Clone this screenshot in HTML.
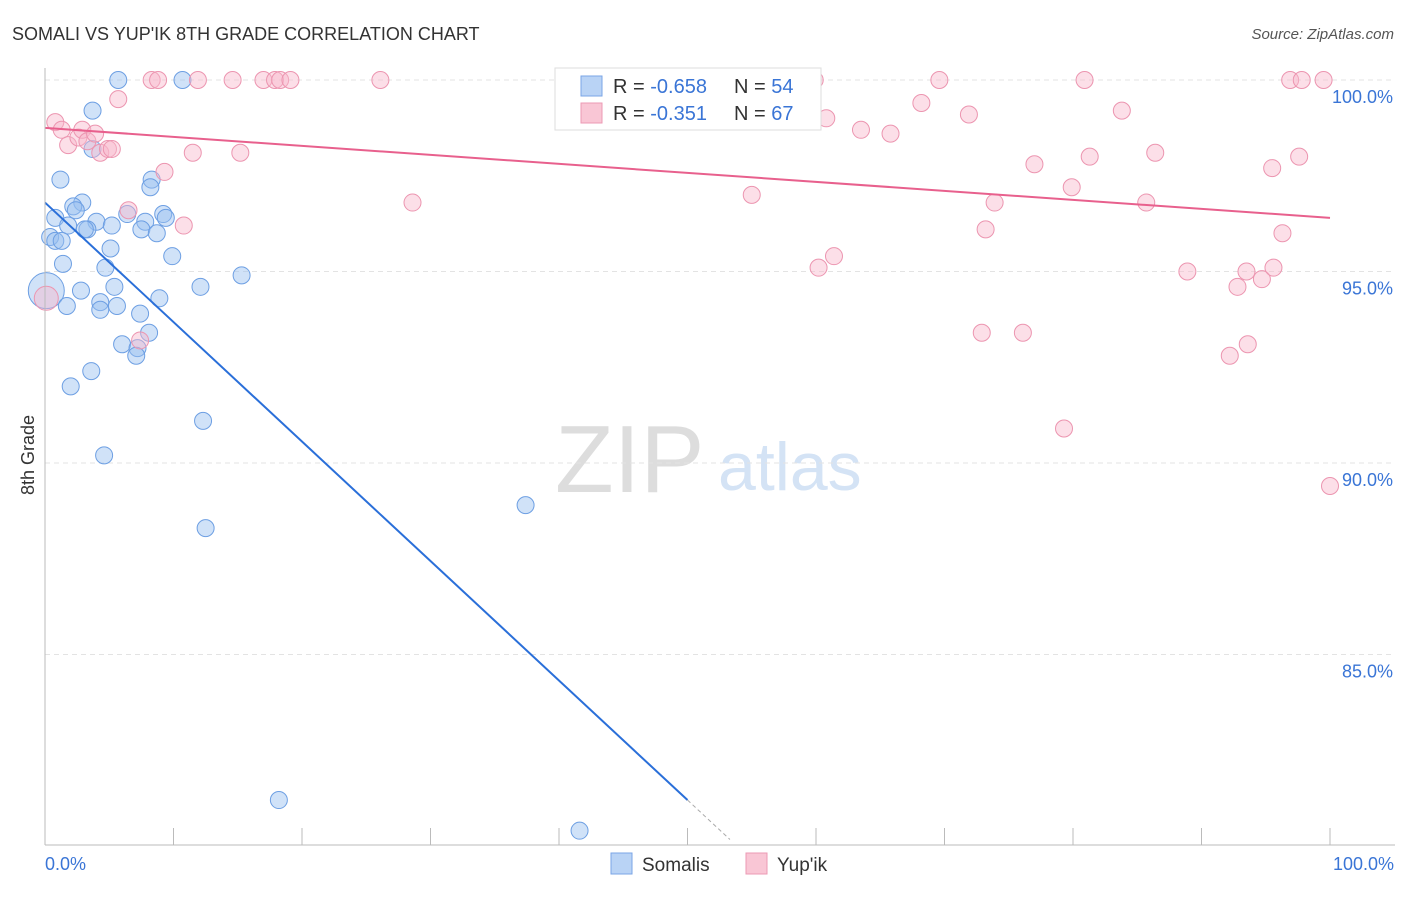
<!DOCTYPE html>
<html><head><meta charset="utf-8"><style>
body{margin:0;background:#fff;font-family:"Liberation Sans",sans-serif;}
svg text{font-family:"Liberation Sans",sans-serif;}
</style></head><body>
<svg id="c" width="1406" height="892" viewBox="0 0 1406 892" xmlns="http://www.w3.org/2000/svg">
<text x="12" y="40" font-size="18" fill="#333">SOMALI VS YUP'IK 8TH GRADE CORRELATION CHART</text>
<text x="1394" y="39" font-size="15" fill="#555" font-style="italic" text-anchor="end">Source: ZipAtlas.com</text>
<text x="555" y="492" font-size="96" fill="#ddd" font-family="Liberation Serif">ZIP</text>
<text x="718" y="490" font-size="68" fill="#d4e3f5">atlas</text>
<text transform="translate(34,455) rotate(-90)" font-size="18" fill="#333" text-anchor="middle">8th Grade</text>
<g id="grid"></g><g id="marks"></g>
<line x1="45" y1="68" x2="45" y2="845" stroke="#bbb"/>
<line x1="45" y1="845" x2="1395" y2="845" stroke="#bbb"/>
<text x="45" y="870" font-size="18" fill="#3a75d6">0.0%</text>
<text x="1394" y="870" font-size="18" fill="#3a75d6" text-anchor="end">100.0%</text>
<g>
<rect x="555" y="68" width="266" height="62" fill="#fff" stroke="#ddd"/>
<rect x="581" y="76" width="21" height="20" fill="#b9d3f5" stroke="#7aa5e6"/>
<rect x="581" y="103" width="21" height="20" fill="#f9c6d5" stroke="#ec9ab4"/>
<text x="613" y="93" font-size="20" fill="#333">R = <tspan fill="#3a75d6">-0.658</tspan></text>
<text x="734" y="93" font-size="20" fill="#333">N = <tspan fill="#3a75d6">54</tspan></text>
<text x="613" y="120" font-size="20" fill="#333">R =  <tspan fill="#3a75d6">-0.351</tspan></text>
<text x="734" y="120" font-size="20" fill="#333">N = <tspan fill="#3a75d6">67</tspan></text>
</g>
<g><rect x="611" y="853" width="21" height="21" fill="#b9d3f5" stroke="#7aa5e6"/><text x="642" y="871" font-size="19" fill="#333">Somalis</text></g>
<g><rect x="746" y="853" width="21" height="21" fill="#f9c6d5" stroke="#ec9ab4"/><text x="777" y="871" font-size="19" fill="#333">Yup'ik</text></g>
</svg>
<script>
const yTicks=[100,95,90,85];
const yTickLabels=["100.0%","95.0%","90.0%","85.0%"];
const xTicks=[0,10,20,30,40,50,60,70,80,90,100];
const somaliX=[5.7,10.7,3.7,3.7,1.2,8.3,8.2,2.9,2.2,2.4,0.8,6.4,9.2,9.4,4.0,5.2,7.8,1.8,3.3,3.1,7.5,8.7,0.4,0.8,1.3,5.1,9.9,4.7,1.4,15.3,5.4,12.1,2.8,0.1,4.3,8.9,1.7,5.6,4.3,7.4,8.1,6.0,7.2,7.1,3.6,2.0,12.3,4.6,37.4,12.5,18.2,41.6];
const somaliY=[100,100,99.2,98.2,97.4,97.4,97.2,96.8,96.7,96.6,96.4,96.5,96.5,96.4,96.3,96.2,96.3,96.2,96.1,96.1,96.1,96.0,95.9,95.8,95.8,95.6,95.4,95.1,95.2,94.9,94.6,94.6,94.5,94.5,94.2,94.3,94.1,94.1,94.0,93.9,93.4,93.1,93.0,92.8,92.4,92.0,91.1,90.2,88.9,88.3,81.2,80.4];
const yupikX=[0.8,1.3,1.8,2.6,2.9,3.3,3.9,4.3,4.9,5.2,5.7,6.5,7.4,9.3,10.8,11.5,15.2,8.3,8.8,11.9,14.6,17.0,17.9,18.3,19.1,26.1,28.6,0.1,41.3,49.7,55.0,58.4,59.9,60.8,60.2,61.4,63.5,65.8,68.2,69.6,71.9,73.2,73.9,72.9,76.1,77.0,79.9,80.9,81.3,83.8,85.7,86.4,79.3,88.9,92.2,92.8,93.5,93.6,94.7,95.6,95.5,96.3,96.9,97.8,97.6,99.5,100];
const yupikY=[98.9,98.7,98.3,98.5,98.7,98.4,98.6,98.1,98.2,98.2,99.5,96.6,93.2,97.6,96.2,98.1,98.1,100,100,100,100,100,100,100,100,100,96.8,94.3,100,100,97.0,99.6,100,99.0,95.1,95.4,98.7,98.6,99.4,100,99.1,96.1,96.8,93.4,93.4,97.8,97.2,100,98.0,99.2,96.8,98.1,90.9,95.0,92.8,94.6,95.0,93.1,94.8,95.1,97.7,96.0,100,100,98.0,100,89.4];
const somaliTrend=[96.8,-0.312];
const yupikTrend=[98.75,-0.0235];
const X=v=>45+v*12.85, Y=v=>80+(100-v)*38.3;
const NS="http://www.w3.org/2000/svg";
const grid=document.getElementById('grid'), marks=document.getElementById('marks');
function mk(tag,at,p){const e=document.createElementNS(NS,tag);for(const k in at)e.setAttribute(k,at[k]);p.appendChild(e);return e;}
yTicks.forEach((t,i)=>{
 const l=mk('line',{x1:45,x2:1395,y1:Y(t),y2:Y(t),stroke:'#e3e3e3','stroke-dasharray':'5,4'},grid);
 
 
 const tx=mk('text',{x:1393,y:Y(t)+23,'font-size':18,fill:'#3a75d6','text-anchor':'end'},grid);
 tx.textContent=yTickLabels[i];
 
 
});
xTicks.forEach(t=>{
 const l=mk('line',{x1:X(t),x2:X(t),y1:828,y2:845,stroke:'#bbb'},grid);
 
 
});
const big={33:1};
somaliX.forEach((x,i)=>{
 const c=mk('circle',{cx:X(x),cy:Y(somaliY[i]),r:big[i]?18:8.5,fill:'rgba(150,190,240,0.45)',stroke:'#6d9fe3','stroke-width':1},marks);
 
 
});
yupikX.forEach((x,i)=>{
 const c=mk('circle',{cx:X(x),cy:Y(yupikY[i]),r:i==27?12:8.5,fill:'rgba(248,185,205,0.45)',stroke:'#ec95b0','stroke-width':1},marks);
 
 
});
const sl=mk('line',{x1:X(0),y1:Y(somaliTrend[0]),x2:X(50),y2:Y(somaliTrend[0]+somaliTrend[1]*50),stroke:'#2a6fd9','stroke-width':2},marks);


const sd=mk('line',{x1:X(50),y1:Y(somaliTrend[0]+somaliTrend[1]*50),x2:X(53.3),y2:Y(somaliTrend[0]+somaliTrend[1]*53.3),stroke:'#aaa','stroke-width':1,'stroke-dasharray':'4,3'},marks);


const yl=mk('line',{x1:X(0),y1:Y(yupikTrend[0]),x2:X(100),y2:Y(yupikTrend[0]+yupikTrend[1]*100),stroke:'#e8608d','stroke-width':2},marks);


</script>
</body></html>
